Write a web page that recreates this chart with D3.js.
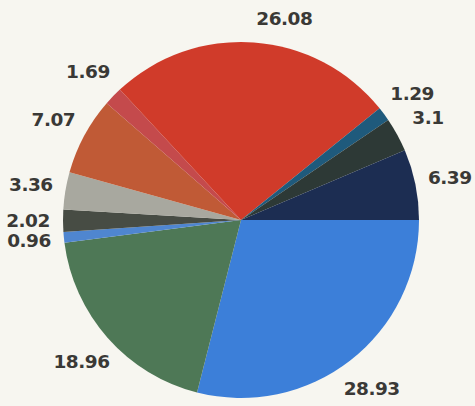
<!DOCTYPE html>
<html>
<head>
<meta charset="utf-8">
<script src="https://cdn.jsdelivr.net/npm/d3@7"></script>
<style>
  body { margin: 0; background: #f7f6f0; }
</style>
</head>
<body>
<div id="chart"></div>
<script>
const width = 475, height = 406;
const cx = 241, cy = 220, radius = 178;

// slices, clockwise from 3 o'clock
const labels = ["28.93", "18.96", "0.96", "2.02", "3.36", "7.07", "1.69", "26.08", "1.29", "3.1", "6.39"];
const values = [28.93, 18.96, 0.96, 2.02, 3.36, 7.07, 1.69, 26.08, 1.29, 3.1, 6.39];
const colors = ["#3c7fd9", "#4e7856", "#4f86d0", "#474c44", "#a8a89f", "#c05a36", "#c44a4c", "#d03b2a", "#1f5a7c", "#2d3936", "#1c2d52"];

const svg = d3.select("#chart")
    .append("svg")
    .attr("width", width)
    .attr("height", height)
    .append("g")
    .attr("transform", `translate(${cx}, ${cy})`);

const pie = d3.pie()
    .sort(null)
    .value(d => d.value)
    .startAngle(Math.PI / 2)
    .endAngle(Math.PI / 2 + 2 * Math.PI);

const data = values.map((v, i) => ({ label: labels[i], value: v, color: colors[i] }));
const arcs = pie(data);

const arc = d3.arc().innerRadius(0).outerRadius(radius);
const labelArc = d3.arc().innerRadius(213).outerRadius(213);

svg.selectAll("path")
    .data(arcs)
    .join("path")
    .attr("d", arc)
    .attr("fill", d => d.data.color);

// keep labels inside the picture; a label pushed down off the top edge
// is set beside the slice's centre line instead of on it
const topLimit = -cy + 18;
const tooHigh = d => labelArc.centroid(d)[1] < topLimit;

svg.selectAll("text")
    .data(arcs)
    .join("text")
    .attr("x", d => labelArc.centroid(d)[0])
    .attr("y", d => Math.max(labelArc.centroid(d)[1], topLimit))
    .attr("text-anchor", d => tooHigh(d) ? "start" : "middle")
    .attr("dominant-baseline", "central")
    .style("font-family", "DejaVu Sans")
    .style("font-weight", "bold")
    .style("font-size", "18.5px")
    .style("letter-spacing", "-0.5px")
    .style("fill", "#3a3936")
    .text(d => d.data.label);
</script>
</body>
</html>
